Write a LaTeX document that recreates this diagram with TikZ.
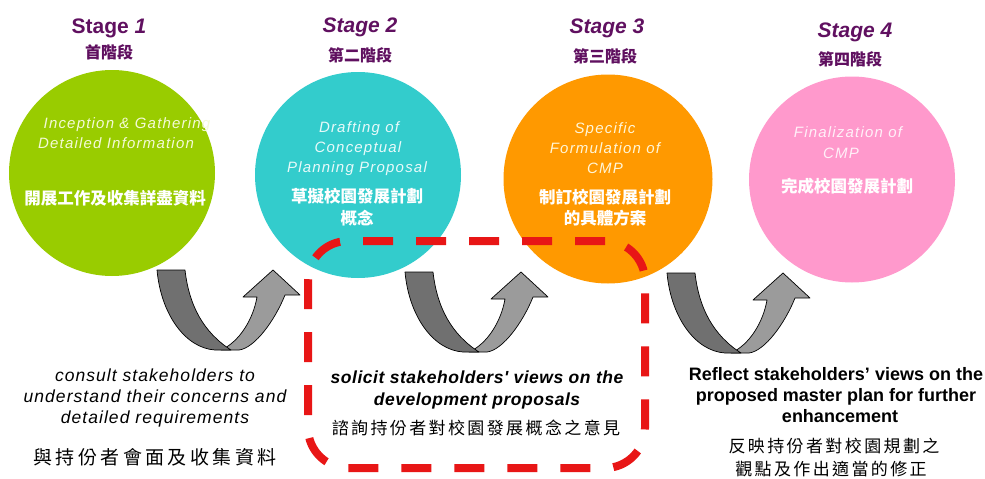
\documentclass[tikz,border=0pt]{standalone}
\usepackage{fontspec}
\setmainfont{Liberation Sans}
\newfontfamily\spc[LetterSpace=8]{Liberation Sans}
\newfontfamily\spcb[LetterSpace=6]{Liberation Sans}
\newfontfamily\spcc[LetterSpace=3]{Liberation Sans}
\newfontfamily\cjk{Noto Sans CJK TC}
\newfontfamily\cjka[LetterSpace=18]{Noto Sans CJK TC}
\newfontfamily\cjkb[LetterSpace=14]{Noto Sans CJK TC}
\definecolor{cgreen}{RGB}{153,204,0}
\definecolor{cteal}{RGB}{51,204,204}
\definecolor{corange}{RGB}{255,153,0}
\definecolor{cpink}{RGB}{255,153,204}
\definecolor{tgreen}{RGB}{244,250,215}
\definecolor{tteal}{RGB}{232,250,250}
\definecolor{torange}{RGB}{255,246,215}
\definecolor{tpink}{RGB}{255,240,248}
\definecolor{stagepurple}{RGB}{96,16,96}
\definecolor{arrdark}{RGB}{112,112,112}
\definecolor{arrlight}{RGB}{155,155,155}
\definecolor{boxred}{RGB}{232,22,22}
\tikzset{
  stagett/.style={anchor=base, text=stagepurple, font=\fontsize{21}{24}\selectfont\bfseries\itshape},
  stagecn/.style={anchor=base, text=stagepurple, font=\cjk\fontsize{16}{18}\selectfont\bfseries},
  circ/.style={circle, minimum size=206pt, inner sep=0pt, draw=none},
  intxt/.style={anchor=base, font=\spc\fontsize{15}{17}\selectfont\itshape},
  incn/.style={anchor=base, text=white, font=\cjk\fontsize{16.5}{18}\selectfont\bfseries},
  botA/.style={anchor=base, font=\spcb\fontsize{17.5}{19}\selectfont\itshape},
  botB/.style={anchor=base, font=\spcc\fontsize{17.5}{19}\selectfont\bfseries\itshape},
  botC/.style={anchor=base, font=\fontsize{18}{20}\selectfont\bfseries},
  cnA/.style={anchor=base, font=\cjka\fontsize{19}{21}\selectfont},
  cnB/.style={anchor=base, font=\cjkb\fontsize{17}{19}\selectfont},
  uarrow/.pic={
    \filldraw[fill=arrlight, draw=black, line width=0.7pt, line join=round]
      (14,0) .. controls (30,-2) and (50,-30) .. (60,-55) -- (75,-55) -- (48,-80)
      -- (18,-53) -- (32,-53) .. controls (28,-30) and (14,-8) .. (-4,0) -- cycle;
    \filldraw[fill=arrdark, draw=black, line width=0.7pt, line join=round]
      (-68,-80) -- (-40,-80) .. controls (-36,-45) and (-22,-18) .. (6,0)
      -- (-10,0) .. controls (-40,-2) and (-64,-36) .. (-68,-80) -- cycle;
  }
}
\begin{document}
\begin{tikzpicture}[x=1pt, y=-1pt]
\fill[white] (0,0) rectangle (985,479);
\useasboundingbox (0,0) rectangle (985,479);

% circles
\node[circ, fill=cgreen]  (c1) at (112,173) {};
\node[circ, fill=cteal]   (c2) at (358,175) {};
\node[circ, fill=corange, minimum size=209pt] (c3) at (608,179) {};
\node[circ, fill=cpink]   (c4) at (852,179.5) {};

% stage titles
\node[stagett] (s1) at (109,33) {\upshape Stage \itshape 1};
\node[stagett] (s2) at (360,32) {Stage 2};
\node[stagett] (s3) at (607,33) {Stage 3};
\node[stagett] (s4) at (855,37) {Stage 4};
\node[stagecn] (s1c) at (109,58) {首階段};
\node[stagecn] (s2c) at (360,61) {第二階段};
\node[stagecn] (s3c) at (605,62) {第三階段};
\node[stagecn] (s4c) at (850,65) {第四階段};

% circle texts
\node[intxt, text=tgreen] (t1a) at (127,128) {Inception \& Gathering};
\node[intxt, text=tgreen] (t1b) at (116,148) {Detailed Information};
\node[incn] (t1c) at (115,204) {開展工作及收集詳盡資料};

\node[intxt, text=tteal] (t2a) at (359,132) {Drafting of};
\node[intxt, text=tteal] (t2b) at (358,152) {Conceptual};
\node[intxt, text=tteal] (t2c) at (357,172) {Planning Proposal};
\node[incn] (t2d) at (357,202) {草擬校園發展計劃};
\node[incn] (t2e) at (357,224) {概念};

\node[intxt, text=torange] (t3a) at (605,133) {Specific};
\node[intxt, text=torange] (t3b) at (605,153) {Formulation of};
\node[intxt, text=torange] (t3c) at (605,173) {CMP};
\node[incn] (t3d) at (605,203) {制訂校園發展計劃};
\node[incn] (t3e) at (605,224) {的具體方案};

\node[intxt, text=tpink] (t4a) at (848,137) {Finalization of};
\node[intxt, text=tpink] (t4b) at (841,158) {CMP};
\node[incn] (t4c) at (847,192) {完成校園發展計劃};

% U-turn arrows
\pic (a1) at (225,350) {uarrow};
\pic (a2) at (473,352) {uarrow};
\pic (a3) at (735,353) {uarrow};

% bottom texts
\node[botA] (b1a) at (155,381) {consult stakeholders to};
\node[botA] (b1b) at (155,402) {understand their concerns and};
\node[botA] (b1c) at (155,423) {detailed requirements};
\node[cnA]  (b1d) at (155,464) {與持份者會面及收集資料};

\node[botB] (b2a) at (477,383) {solicit stakeholders' views on the};
\node[botB] (b2b) at (477,405) {development proposals};
\node[cnB]  (b2c) at (476,434) {諮詢持份者對校園發展概念之意見};

\node[botC] (b3a) at (836,380) {Reflect stakeholders' views on the};
\node[botC] (b3b) at (836,401) {proposed master plan for further};
\node[botC] (b3c) at (840,422) {enhancement};
\node[cnB]  (b3d) at (834,452) {反映持份者對校園規劃之};
\node[cnB]  (b3e) at (831,475) {觀點及作出適當的修正};

% dashed box
\node[draw=boxred, line width=8pt, dash pattern=on 30pt off 23pt, rounded corners=40pt,
      minimum width=337pt, minimum height=227pt, inner sep=0pt] (box) at (476.5,354.5) {};
\end{tikzpicture}
\end{document}
